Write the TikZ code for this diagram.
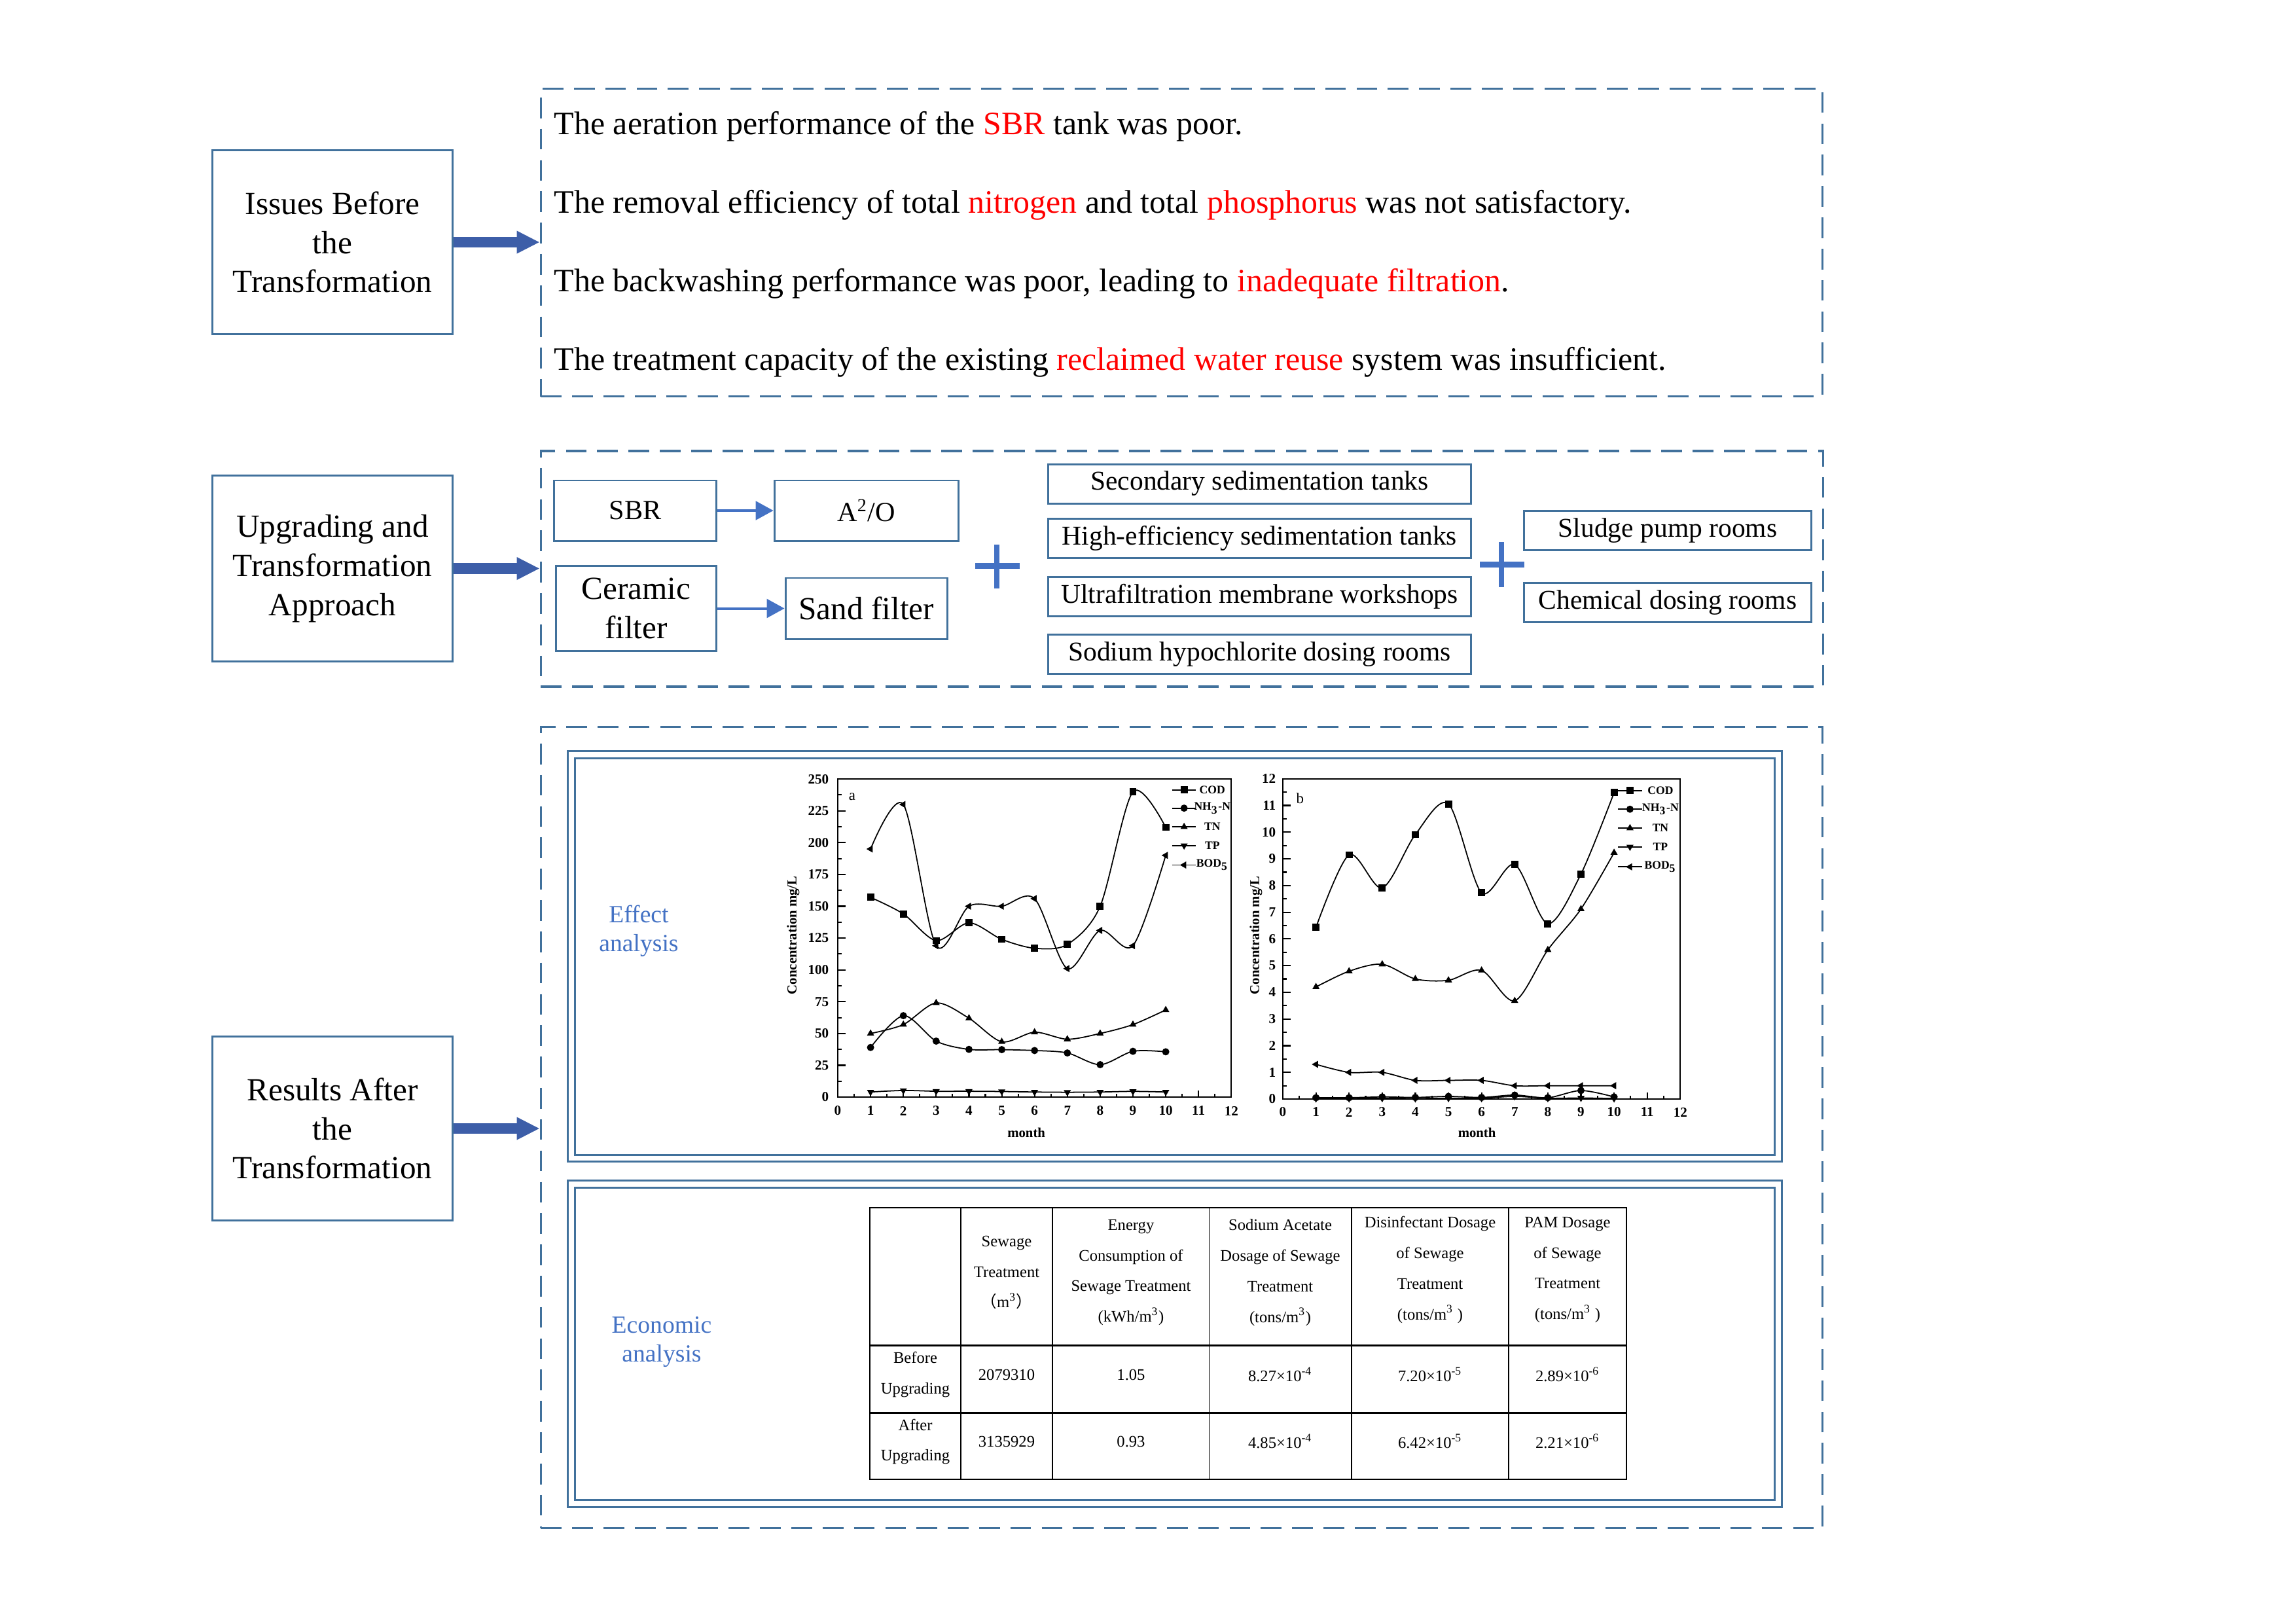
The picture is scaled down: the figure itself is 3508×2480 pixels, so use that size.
\documentclass[tikz,border=0pt]{standalone}
\usepackage{fontspec}
\setmainfont{Liberation Serif}
\newfontfamily\cjk{Noto Sans CJK SC}
\usetikzlibrary{arrows.meta,positioning,plotmarks}
\definecolor{frameblue}{RGB}{65,113,156}
\definecolor{lineblue}{RGB}{68,114,196}
\definecolor{arrowblue}{RGB}{61,94,168}
\definecolor{hlred}{RGB}{255,0,0}
\newcommand{\hl}[1]{\textcolor{hlred}{#1}}
\tikzset{
  lbox/.style={
    draw=frameblue, line width=0.85pt, align=center, inner sep=0pt,
    minimum width=3.67cm, minimum height=2.8cm, font=\fontsize{14}{17}\selectfont
  },
  zone/.style={
    draw=frameblue, line width=1pt, dash pattern=on 9pt off 4.6pt, inner sep=0pt
  },
  issue/.style={anchor=base west, inner sep=0pt, font=\fontsize{14.2}{17}\selectfont},
  unit/.style={
    draw=frameblue, line width=0.85pt, align=center, inner sep=0pt,
    font=\fontsize{12}{14}\selectfont
  },
  plant/.style={unit, font=\fontsize{11.8}{14}\selectfont, minimum width=6.45cm, minimum height=0.6cm},
  room/.style={plant, minimum width=4.38cm},
  frame/.style={draw=frameblue, line width=0.85pt, double, double distance=2.25pt, inner sep=0pt},
  note/.style={text=lineblue, align=center, inner sep=0pt, font=\fontsize{10.7}{12.5}\selectfont},
  bigarrow/.style={draw=arrowblue, line width=4.8pt, -{Triangle[length=10pt,width=9.2pt]}},
  flow/.style={draw=lineblue, line width=1.15pt, -{Triangle[length=7.7pt,width=8.1pt]}},
  plus/.style={draw=lineblue, line width=2.3pt},
  axis/.style={draw=black, line width=0.6pt},
  ticklbl/.style={inner sep=0pt, font=\fontsize{6}{7}\selectfont\bfseries},
  axtitle/.style={inner sep=0pt, font=\fontsize{5.9}{7}\selectfont\bfseries},
  keylbl/.style={inner sep=0pt, font=\fontsize{5}{6}\selectfont\bfseries},
  panel/.style={inner sep=0pt, font=\fontsize{6.5}{7}\selectfont},
  series/.style={draw=black, line width=0.5pt, mark size=1.3pt},
  tbl/.style={draw=black, line width=0.5pt},
  cell/.style={align=center, inner sep=0pt, font=\fontsize{7}{13.3}\selectfont},
}

\begin{document}
\begin{tikzpicture}[x=0.01cm, y=-0.01cm]
  \useasboundingbox (0,0) rectangle (3508,2480);

  % left column
  \node[lbox] (issues) at (508,370) {Issues Before\\the\\Transformation};
  \node[lbox, minimum height=2.83cm] (upgr) at (508,868.5) {Upgrading and\\Transformation\\Approach};
  \node[lbox] (result) at (508,1724) {Results After\\the\\Transformation};

  % dashed zones
  \node[zone, minimum width=19.57cm, minimum height=4.7cm] (prob) at (1805.5,370.5) {};
  \node[zone, minimum width=19.58cm, minimum height=3.6cm] (appr) at (1806,869) {};
  \node[zone, minimum width=19.57cm, minimum height=12.23cm] (res) at (1805.5,1722.5) {};

  \draw[bigarrow] (issues.east) -- (issues.east -| prob.west);
  \draw[bigarrow] (upgr.east) -- (upgr.east -| appr.west);
  \draw[bigarrow] (result.east) -- (result.east -| res.west);

  % issues
  \node[issue] (iss1) at (846,205) {The aeration performance of the \hl{SBR} tank was poor.};
  \node[issue] (iss2) at (846,325) {The removal efficiency of total \hl{nitrogen} and total \hl{phosphorus} was not satisfactory.};
  \node[issue] (iss3) at (846,445) {The backwashing performance was poor, leading to \hl{inadequate filtration}.};
  \node[issue] (iss4) at (846,565) {The treatment capacity of the existing \hl{reclaimed water reuse} system was insufficient.};

  % approach
  \node[unit, minimum width=2.47cm, minimum height=0.92cm] (sbr) at (970.5,780) {SBR};
  \node[unit, minimum width=2.81cm, minimum height=0.92cm, right=0.86cm of sbr] (a2o) {A\textsuperscript{2}/O};
  \node[unit, font=\fontsize{14}{17}\selectfont, minimum width=2.44cm, minimum height=1.29cm] (cer) at (972,929.5) {Ceramic\\filter};
  \node[unit, font=\fontsize{14}{17}\selectfont, minimum width=2.47cm, minimum height=0.93cm, right=1.03cm of cer] (sand) {Sand filter};
  \draw[flow] (sbr) -- (a2o);
  \draw[flow] (cer) -- (sand);
  \draw[plus] (1490,864.5) -- (1558,864.5) (1523,831.5) -- (1523,899);

  \node[plant] (sec) at (1924.5,739) {Secondary sedimentation tanks};
  \node[plant, below=0.2cm of sec] (hes) {High-efficiency sedimentation tanks};
  \node[plant, below=0.26cm of hes] (uf) {Ultrafiltration membrane workshops};
  \node[plant, below=0.255cm of uf] (shd) {Sodium hypochlorite dosing rooms};
  \draw[plus] (2261,862.5) -- (2329,862.5) (2294,828) -- (2294,897);
  \node[room] (sludge) at (2548,810.5) {Sludge pump rooms};
  \node[room, below=0.47cm of sludge] (chem) {Chemical dosing rooms};

  % results
  \node[frame, minimum width=18.43cm, minimum height=6.165cm] (effbox) at (1795,1461) {};
  \node[frame, minimum width=18.43cm, minimum height=4.88cm] (ecobox) at (1795,2053) {};
  \node[note] (efftxt) at (976,1422) {Effect\\analysis};
  \node[note] (ecotxt) at (1011,2050) {Economic\\analysis};

  % chart a
  \begin{scope}[shift={(1280,1676)}, x=0.5008cm, y=0.01942cm]
    \draw[axis] (0,0) rectangle (12,250);
    \foreach \v in {0,25,...,250} {
      \draw[axis] (0,\v) -- (0.24,\v);
      \node[ticklbl, anchor=east] (ay\v) at (-0.26,\v) {\v};
    }
    \foreach \v in {12.5,37.5,...,237.5} \draw[axis] (0,\v) -- (0.12,\v);
    \foreach \m in {0,...,12} {
      \draw[axis] (\m,0) -- (\m,5.15);
      \node[ticklbl] (ax\m) at (\m,-10.8) {\m};
    }
    \foreach \m in {0.5,1.5,...,11.5} \draw[axis] (\m,0) -- (\m,2.6);
    \node[axtitle] (axlbl) at (5.75,-28.1) {month};
    \node[axtitle, rotate=90] (aylbl) at (-1.358,127.2) {Concentration mg/L};
    \node[panel] (alet) at (0.44,235.8) {a};
    \draw[series] plot[smooth, mark=square*, mark options={fill=black}] coordinates {(1,157) (2,144) (3,123) (4,137) (5,124) (6,117) (7,120) (8,150) (9,240) (10,212)};
    \draw[series] plot[smooth, mark=*, mark options={fill=black}] coordinates {(1,39) (2,64) (3,44) (4,37.5) (5,37.3) (6,36.6) (7,34.7) (8,25.5) (9,36) (10,35.6)};
    \draw[series] plot[smooth, mark=triangle*, mark options={fill=black}] coordinates {(1,50) (2,57) (3,74) (4,62) (5,43.5) (6,51) (7,45.5) (8,50) (9,57) (10,68.5)};
    \draw[series] plot[smooth, mark=triangle*, mark options={fill=black, rotate=180}] coordinates {(1,4) (2,5.2) (3,4.6) (4,4.6) (5,4.4) (6,4) (7,3.8) (8,4) (9,4.5) (10,4)};
    \draw[series] plot[smooth, mark=triangle*, mark options={fill=black, rotate=90}] coordinates {(1,195) (2,230) (3,119) (4,150) (5,150) (6,156) (7,101) (8,131) (9,119) (10,190)};
    \foreach \yy/\mk/\rot/\lbl [count=\i] in {241.5/square*/0/COD, 227.1/*/0/NH\textsubscript{3}-N, 212.4/triangle*/0/TN, 197.7/triangle*/180/TP, 182.4/triangle*/90/BOD\textsubscript{5}} {
      \draw[series] (10.19,\yy) -- (10.92,\yy);
      \draw[series] plot[only marks, mark=\mk, mark options={fill=black, rotate=\rot}] coordinates {(10.56,\yy)};
      \node[keylbl] (akey\i) at (11.42,\yy) {\lbl};
    }
  \end{scope}

  % chart b
  \begin{scope}[shift={(1960,1679)}, x=0.5058cm, y=0.4075cm]
    \draw[axis] (0,0) rectangle (12,12);
    \foreach \v in {0,...,12} {
      \draw[axis] (0,\v) -- (0.237,\v);
      \node[ticklbl, anchor=east] (by\v) at (-0.2,\v) {\v};
    }
    \foreach \v in {0.5,1.5,...,11.5} \draw[axis] (0,\v) -- (0.12,\v);
    \foreach \m in {0,...,12} {
      \draw[axis] (\m,0) -- (\m,0.245);
      \node[ticklbl] (bx\m) at (\m,-0.49) {\m};
    }
    \foreach \m in {0.5,1.5,...,11.5} \draw[axis] (\m,0) -- (\m,0.12);
    \node[axtitle] (bxlbl) at (5.86,-1.264) {month};
    \node[axtitle, rotate=90] (bylbl) at (-0.81,6.13) {Concentration mg/L};
    \node[panel] (blet) at (0.52,11.26) {b};
    \draw[series] plot[smooth, mark=square*, mark options={fill=black}] coordinates {(1,6.43) (2,9.15) (3,7.91) (4,9.91) (5,11.06) (6,7.73) (7,8.79) (8,6.57) (9,8.43) (10,11.48)};
    \draw[series] plot[smooth, mark=*, mark options={fill=black}] coordinates {(1,0.05) (2,0.05) (3,0.08) (4,0.06) (5,0.1) (6,0.06) (7,0.15) (8,0.05) (9,0.32) (10,0.08)};
    \draw[series] plot[smooth, mark=triangle*, mark options={fill=black}] coordinates {(1,4.2) (2,4.79) (3,5.05) (4,4.5) (5,4.45) (6,4.82) (7,3.68) (8,5.59) (9,7.12) (10,9.23)};
    \draw[series] plot[smooth, mark=triangle*, mark options={fill=black, rotate=180}] coordinates {(1,0.02) (2,0.02) (3,0.03) (4,0.02) (5,0.03) (6,0.03) (7,0.1) (8,0.03) (9,0.04) (10,0.02)};
    \draw[series] plot[smooth, mark=triangle*, mark options={fill=black, rotate=90}] coordinates {(1,1.3) (2,1.0) (3,1.0) (4,0.7) (5,0.7) (6,0.7) (7,0.5) (8,0.5) (9,0.5) (10,0.5)};
    \foreach \yy/\mk/\rot/\lbl [count=\i] in {11.56/square*/0/COD, 10.86/*/0/NH\textsubscript{3}-N, 10.15/triangle*/0/TN, 9.45/triangle*/180/TP, 8.70/triangle*/90/BOD\textsubscript{5}} {
      \draw[series] (10.12,\yy) -- (10.85,\yy);
      \draw[series] plot[only marks, mark=\mk, mark options={fill=black, rotate=\rot}] coordinates {(10.48,\yy)};
      \node[keylbl] (bkey\i) at (11.4,\yy) {\lbl};
    }
  \end{scope}

  % table
  \draw[tbl] (1329,1845) rectangle (2485,2260);
  \foreach \x in {1468,1608,1847.5,2065,2305} \draw[tbl] (\x,1845) -- (\x,2260);
  \draw[tbl, line width=0.8pt] (1329,2055.7) -- (2485,2055.7) (1329,2158.3) -- (2485,2158.3);
  \node[cell] (hvol) at (1538,1944) {Sewage\\Treatment\\{\cjk （}m\textsuperscript{3}{\cjk ）}};
  \node[cell] (hene) at (1728,1944) {Energy\\Consumption of\\Sewage Treatment\\(kWh/m\textsuperscript{3})};
  \node[cell] (hace) at (1956,1944) {Sodium Acetate\\Dosage of Sewage\\Treatment\\(tons/m\textsuperscript{3})};
  \node[cell] (hdis) at (2185,1940) {Disinfectant Dosage\\of Sewage\\Treatment\\(tons/m\textsuperscript{3} )};
  \node[cell] (hpam) at (2395,1940) {PAM Dosage\\of Sewage\\Treatment\\(tons/m\textsuperscript{3} )};
  \node[cell] (bef) at (1398.5,2100) {Before\\Upgrading};
  \node[cell] (befvol) at (1538,2100) {2079310};
  \node[cell] (befene) at (1728,2100) {1.05};
  \node[cell] (befeace) at (1956,2100) {8.27×10\textsuperscript{-4}};
  \node[cell] (befdis) at (2185,2100) {7.20×10\textsuperscript{-5}};
  \node[cell] (befpam) at (2395,2100) {2.89×10\textsuperscript{-6}};
  \node[cell] (aft) at (1398.5,2202.5) {After\\Upgrading};
  \node[cell] (aftvol) at (1538,2202) {3135929};
  \node[cell] (aftene) at (1728,2202) {0.93};
  \node[cell] (aftace) at (1956,2202) {4.85×10\textsuperscript{-4}};
  \node[cell] (aftdis) at (2185,2202) {6.42×10\textsuperscript{-5}};
  \node[cell] (aftpam) at (2395,2202) {2.21×10\textsuperscript{-6}};
\end{tikzpicture}
\end{document}
